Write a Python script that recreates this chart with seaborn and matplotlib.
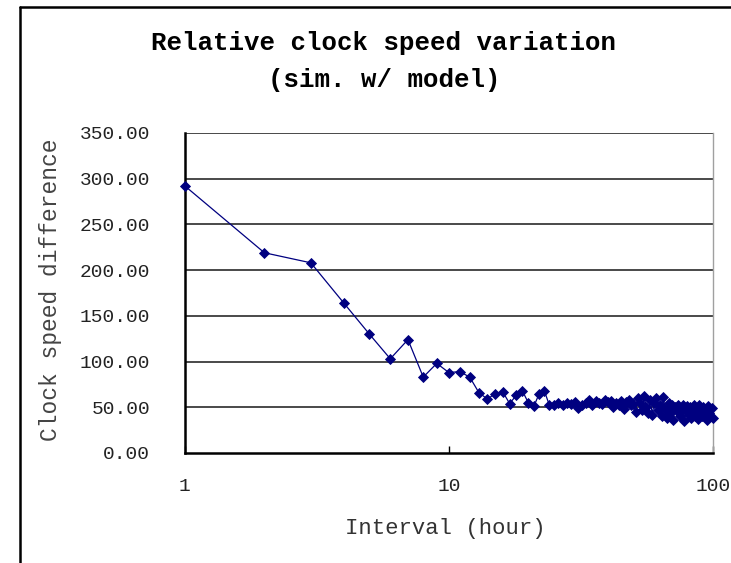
import numpy as np
import pandas as pd
import matplotlib
matplotlib.use("Agg")
import matplotlib.pyplot as plt
from matplotlib.lines import Line2D
from matplotlib.ticker import FormatStrFormatter, FixedLocator, NullLocator
import seaborn as sns

# interval in hours and measured clock speed difference
hours = list(range(1, 101))
speed_diff = [
    292, 219, 208, 164, 130, 103, 124, 83, 98, 88,
    89, 83, 66, 59, 65, 67, 54, 63, 68, 55,
    51, 65, 68, 53, 52, 55, 52, 55, 54, 56,
    49, 53, 55, 58, 52, 57, 55, 54, 58, 56,
    57, 50, 55, 53, 57, 48, 56, 58, 52, 54,
    45, 60, 55, 47, 62, 50, 44, 58, 42, 55,
    60, 47, 53, 40, 61, 48, 38, 55, 44, 52,
    36, 50, 46, 53, 40, 48, 52, 35, 46, 51,
    42, 50, 38, 47, 53, 41, 49, 37, 52, 45,
    40, 50, 43, 48, 36, 51, 44, 40, 49, 38,
]
y_ticks = [0, 50, 100, 150, 200, 250, 300, 350]
x_ticks = [1, 10, 100]

df = pd.DataFrame({"hours": hours, "diff": speed_diff})

sns.set_theme(style="white")
plt.rcParams["font.family"] = ["Liberation Mono", "DejaVu Sans Mono"]

fig = plt.figure(figsize=(7.31, 5.63), dpi=100)
ax = fig.add_axes([0.253, 0.1954, 0.722, 0.5684])

navy = "#000080"
sns.lineplot(data=df, x="hours", y="diff", ax=ax, sort=False, color=navy,
             linewidth=0.9, marker="D", markersize=5.2, markeredgecolor=navy,
             markerfacecolor=navy, markeredgewidth=0.6)
for ln in ax.lines:
    ln.set_clip_on(False)
    ln.set_zorder(5)

ax.set_xscale("log")
ax.set_xlim(1, 100)
ax.set_ylim(0, 350)
ax.xaxis.set_major_locator(FixedLocator(x_ticks))
ax.xaxis.set_minor_locator(NullLocator())
ax.set_xticklabels([str(t) for t in x_ticks])
ax.yaxis.set_major_locator(FixedLocator(y_ticks))
ax.yaxis.set_major_formatter(FormatStrFormatter("%.2f"))

for v in y_ticks[1:]:
    ax.axhline(v, color="#3a3a3a", linewidth=1.3, zorder=0)

ax.spines["top"].set_visible(False)
ax.spines["right"].set_color("#a0a0a0")
ax.spines["right"].set_linewidth(1.0)
ax.spines["left"].set_color("black")
ax.spines["left"].set_linewidth(1.8)
ax.spines["bottom"].set_color("black")
ax.spines["bottom"].set_linewidth(1.8)

ax.tick_params(axis="x", which="major", direction="in", length=5, width=1,
               color="black", bottom=True, pad=18, labelsize=14, labelcolor="#222222")
ax.tick_params(axis="y", length=0, pad=25, labelsize=14, labelcolor="#222222")

ax.set_xlabel("Interval (hour)", fontsize=16, color="#333333")
ax.set_ylabel("Clock speed difference", fontsize=16.5, color="#444444")
ax.xaxis.set_label_coords(0.494, -0.203)
ax.yaxis.set_label_coords(-0.233, 0.51)

fig.text(0.525, 0.924, "Relative clock speed variation", ha="center", va="center",
         fontsize=18.5, fontweight="bold", color="black")
fig.text(0.525, 0.858, "(sim. w/ model)", ha="center", va="center",
         fontsize=18.5, fontweight="bold", color="black")

# chart frame (left and top edges visible)
fig.add_artist(Line2D([20 / 731, 20 / 731], [0, 1 - 7 / 563], transform=fig.transFigure,
                      color="black", linewidth=1.8))
fig.add_artist(Line2D([20 / 731, 1], [1 - 7 / 563, 1 - 7 / 563], transform=fig.transFigure,
                      color="black", linewidth=1.8))

fig.savefig("out.png", dpi=100)
plt.close(fig)
